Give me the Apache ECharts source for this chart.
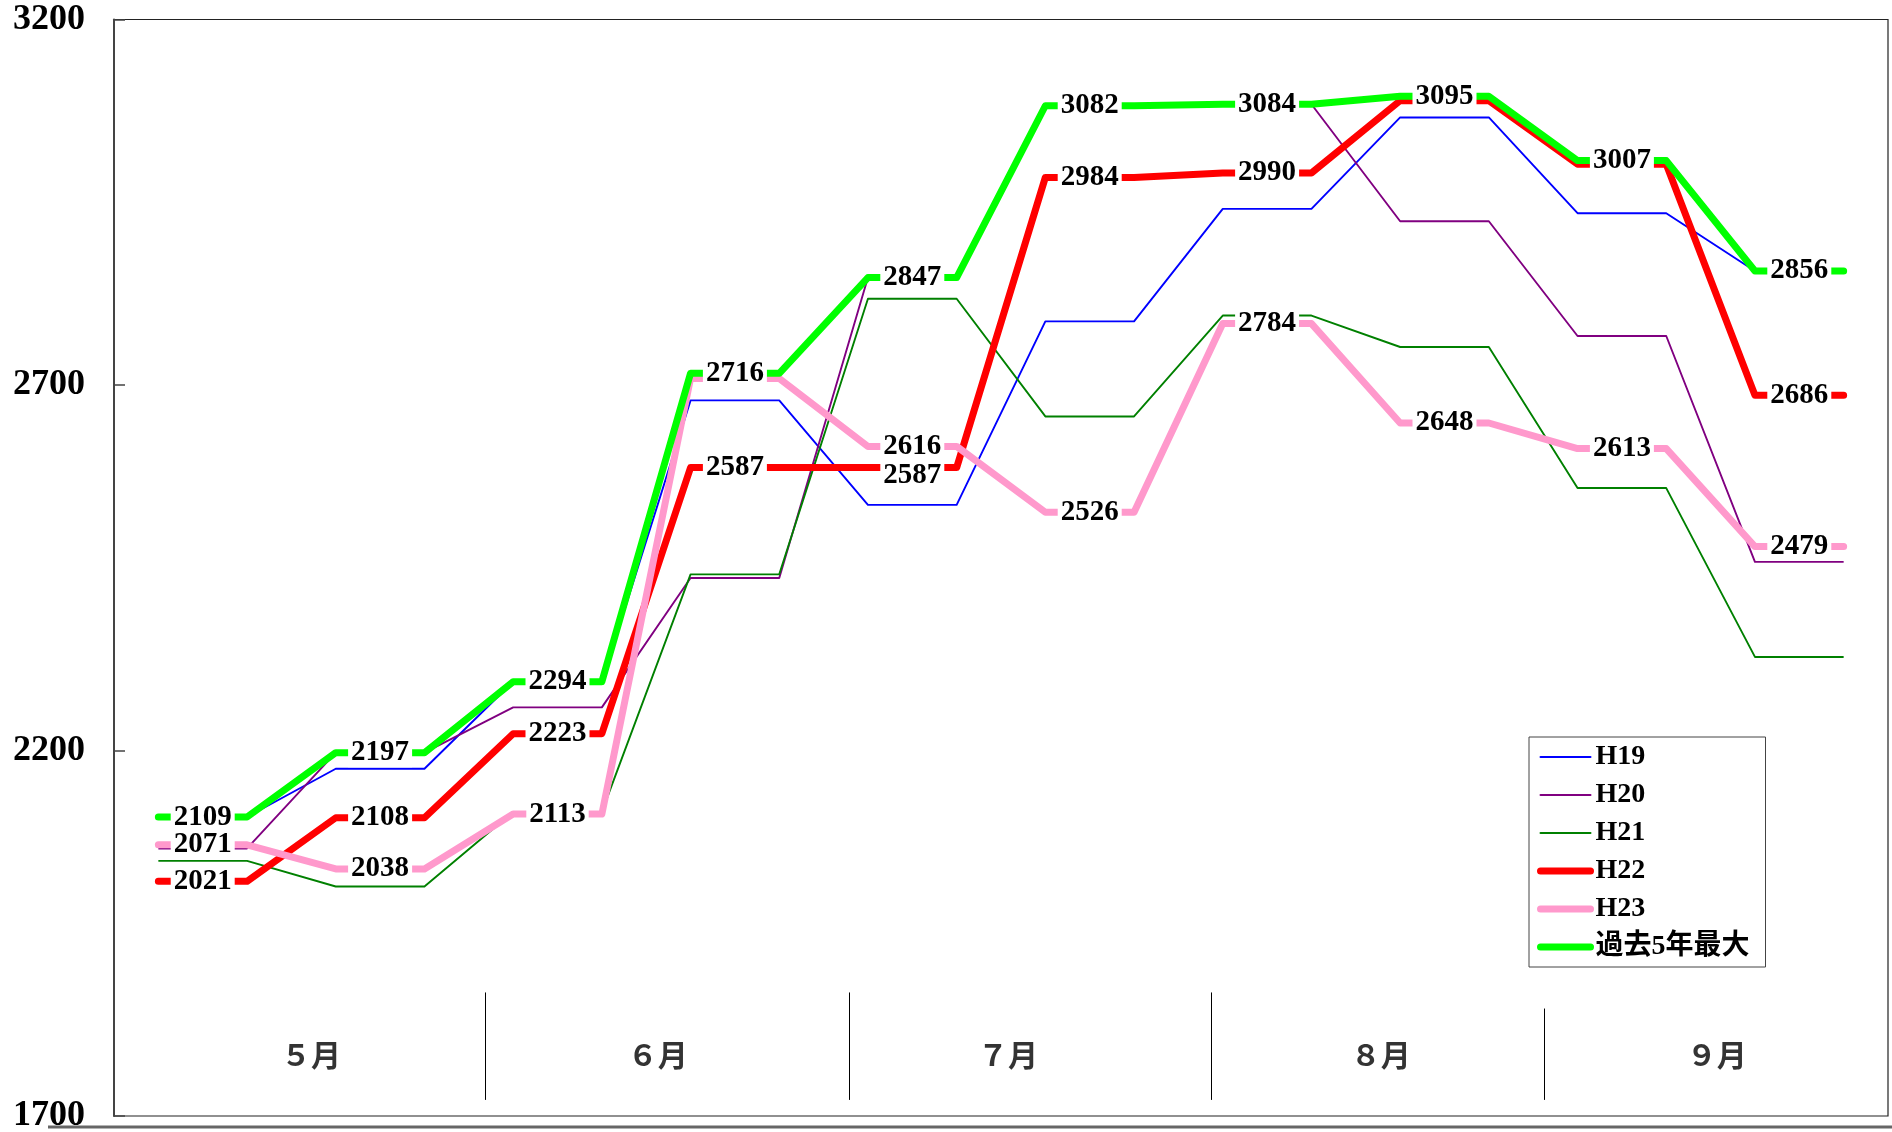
<!DOCTYPE html>
<html><head><meta charset="utf-8">
<script src="https://cdn.jsdelivr.net/npm/echarts@6/dist/echarts.min.js"></script>
<style>html,body{margin:0;padding:0;background:#fff}#c{width:1892px;height:1132px}</style>
</head><body><div id="c"></div>
<script>
// ---- data ----
const months = ['５月', '６月', '７月', '８月', '９月'];
const monthPos = [1.72, 5.63, 9.58, 13.78, 17.57];      // x (period-point units) of month labels
const monthSep = [3.68, 7.79, 11.87, 15.63];            // x of month separators
const yTicks = [1700, 2200, 2700, 3200];
const seriesNames = ['H19', 'H20', 'H21', 'H22', 'H23', '過去5年最大'];
const h19  = [2109, 2175, 2294, 2679, 2536, 2787, 2941, 3066, 2935, 2856];
const h20  = [2066, 2197, 2259, 2436, 2847, 3082, 3084, 2924, 2767, 2458];
const h21  = [2049, 2014, 2116, 2441, 2818, 2657, 2795, 2752, 2559, 2328];
const h22  = [2021, 2108, 2223, 2587, 2587, 2984, 2990, 3089, 3002, 2686];
const h23  = [2071, 2038, 2113, 2709, 2616, 2526, 2784, 2648, 2613, 2479];
const max5 = [2109, 2197, 2294, 2716, 2847, 3082, 3084, 3095, 3007, 2856];

// ---- styles ----
const SERIF = "'Liberation Serif','DejaVu Serif','Noto Sans CJK JP',serif";
const colors = ['#0000FF', '#800080', '#008000', '#FF0000', '#FF99CC', '#00FF00'];
const widths = [1.9, 1.9, 1.9, 7, 7, 7];
const labelOffsets = { 3: { 4: [0, 8] } }; // series index -> period index -> offset

function stepData(arr) {
  const d = [];
  arr.forEach((v, i) => { d.push([2 * i, v]); d.push([2 * i + 1, v]); });
  return d;
}
function labelPoints(arr, sIdx) {
  return arr.map((v, i) => {
    let hide = false;
    if (sIdx !== 5 && Math.abs(max5[i] - v) < 10) hide = true; // coincides with max label
    const off = (labelOffsets[sIdx] && labelOffsets[sIdx][i]) || [0, 0];
    return { coord: [2 * i + 0.5, v], value: v, label: { show: !hide, offset: off } };
  });
}

const all = [h19, h20, h21, h22, h23, max5];
const series = all.map((arr, k) => {
  const s = {
    name: seriesNames[k], type: 'line', data: stepData(arr),
    symbol: 'none', animation: false, silent: true,
    lineStyle: { color: colors[k], width: widths[k], cap: k >= 3 ? 'round' : 'butt', join: 'round' },
    itemStyle: { color: colors[k] },
    z: 2 + k * 0.01
  };
  if (k >= 3) {
    s.markPoint = {
      symbol: 'circle', symbolSize: 1, silent: true, animation: false,
      itemStyle: { color: 'rgba(0,0,0,0)' },
      label: {
        show: true, position: 'inside', formatter: p => String(p.value),
        fontFamily: SERIF, fontWeight: 'bold', fontSize: 29, color: '#000',
        backgroundColor: '#fff', padding: [0, 3]
      },
      data: labelPoints(arr, k)
    };
  }
  return s;
});

series.push({
  name: 'months', type: 'scatter', silent: true, animation: false,
  symbolSize: 1, itemStyle: { color: 'rgba(0,0,0,0)' },
  data: monthPos.map((x, i) => [x, 1784]),
  label: {
    show: true, position: 'inside', formatter: p => months[p.dataIndex],
    fontFamily: "'Noto Sans CJK JP',sans-serif", fontSize: 30, fontWeight: 'bold', color: '#000'
  },
  markLine: {
    silent: true, animation: false, symbol: ['none', 'none'],
    lineStyle: { color: '#000', width: 1, type: 'solid' },
    label: { show: false },
    data: monthSep.map((x, i) => [{ coord: [x, i === 3 ? 1847 : 1869] }, { coord: [x, 1722] }])
  }
});

const legendData = seriesNames.map((n, k) => ({
  name: n,
  lineStyle: { width: k >= 3 ? 7 : 2, cap: 'round', color: colors[k] },
  itemStyle: { opacity: 0 }
}));

const chart = echarts.init(document.getElementById('c'), null, { renderer: 'canvas' });
chart.setOption({
  backgroundColor: '#fff',
  animation: false,
  grid: {
    left: 114, right: 4, top: 19.5, bottom: 16,
    containLabel: false, outerBoundsMode: 'none',
    show: true, borderColor: '#222', borderWidth: 1.2, backgroundColor: '#fff'
  },
  legend: {
    orient: 'vertical', left: 1529, top: 737,
    data: legendData,
    itemWidth: 50, itemHeight: 14, itemGap: 10,
    padding: [6, 16, 6, 8],
    borderColor: '#444', borderWidth: 1, backgroundColor: '#fff',
    selectedMode: false,
    itemStyle: { opacity: 0 },
    textStyle: { fontFamily: SERIF, fontWeight: 'bold', fontSize: 28, color: '#000' }
  },
  xAxis: {
    type: 'value', min: -0.5, max: 19.5,
    axisLine: { show: false, onZero: false }, axisTick: { show: false }, axisLabel: { show: false }, splitLine: { show: false }
  },
  yAxis: {
    type: 'value', min: yTicks[0], max: yTicks[yTicks.length - 1], interval: yTicks[1] - yTicks[0],
    axisLine: { show: true, onZero: false, lineStyle: { color: '#444', width: 2 } },
    axisTick: { show: true, inside: true, length: 11, lineStyle: { color: '#444', width: 1.5 } },
    splitLine: { show: false },
    axisLabel: {
      align: 'left', margin: 101, fontFamily: SERIF, fontWeight: 'bold', fontSize: 36, color: '#000',
      formatter: v => String(v)
    }
  },
  graphic: [{
    type: 'line', silent: true, z: 100,
    shape: { x1: 48, y1: 1127, x2: 1892, y2: 1127 },
    style: { stroke: '#666', lineWidth: 3 }
  }],
  series: series
});
</script>
</body></html>
